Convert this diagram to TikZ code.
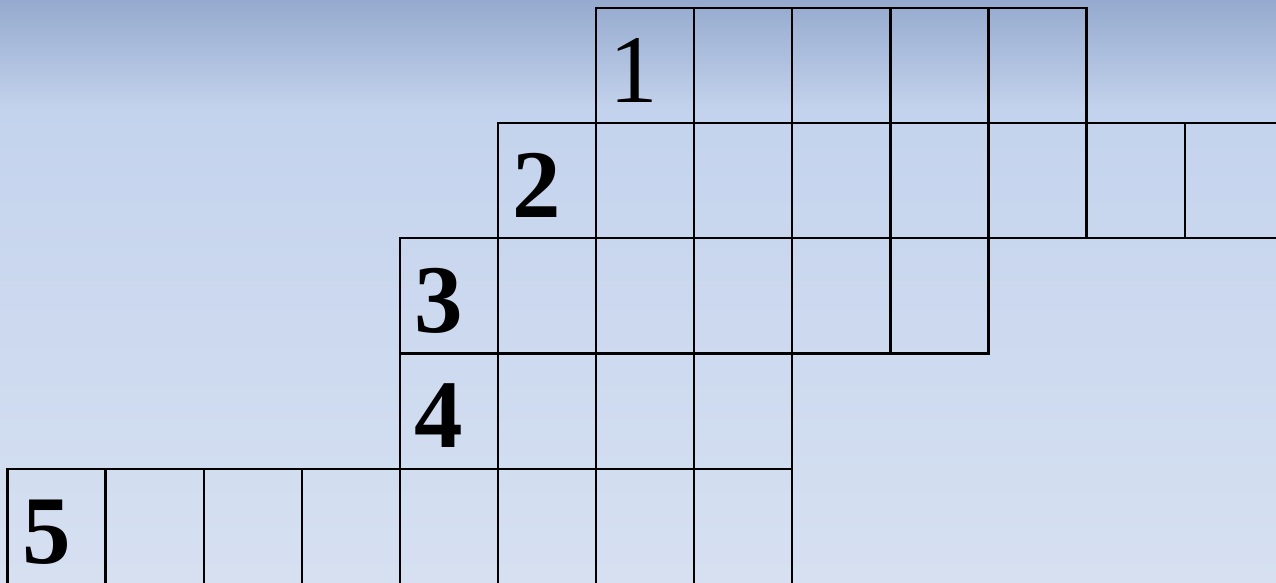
\documentclass[tikz,border=0pt]{standalone}
\usepackage{fontspec}
\setmainfont{Liberation Serif}
\usetikzlibrary{positioning, calc}
\definecolor{cielotop}{RGB}{149,170,206}
\definecolor{cielomid}{RGB}{196,211,237}
\definecolor{cielobot}{RGB}{214,224,241}
\begin{document}
\begin{tikzpicture}[x=1pt, y=-1pt,
    casella/.style={draw, line width=2.3pt, rectangle, inner sep=0pt, outer sep=0pt,
        minimum width=98.1pt, minimum height=115.3pt},
    numero/.style={anchor=base, inner sep=0pt, font=\fontsize{97}{97}\selectfont\bfseries},
    numerolight/.style={numero, font=\fontsize{97}{97}\selectfont}]
        % sfondo
        \useasboundingbox (0,0) rectangle (1276,582);
        \shade[top color=cielotop, bottom color=cielomid] (0,0) rectangle (1276,110);
        \shade[top color=cielomid, bottom color=cielobot] (0,110) rectangle (1276,582);
        \clip (0,0) rectangle (1276,582);
        % caselle del cruciverba
        \foreach \r/\a/\b in {1/6/10, 2/5/12, 3/4/9, 4/4/7, 5/0/7}
            \foreach \k in {\a,...,\b}
                \node[casella] (c\r-\k) at ({7.5+98.1*\k+49.05}, {7.7+115.3*(\r-1)+57.65}) {};
        % numeri
        \node[numerolight] (n1) at ($(c1-6.south west)+(38,-21)$) {1};
        \node[numero] (n2) at ($(c2-5.south west)+(39,-21)$) {2};
        \node[numero] (n3) at ($(c3-4.south west)+(39,-21)$) {3};
        \node[numero] (n4) at ($(c4-4.south west)+(39,-21)$) {4};
        \node[numero] (n5) at ($(c5-0.south west)+(39,-21)$) {5};
\end{tikzpicture}
\end{document}
